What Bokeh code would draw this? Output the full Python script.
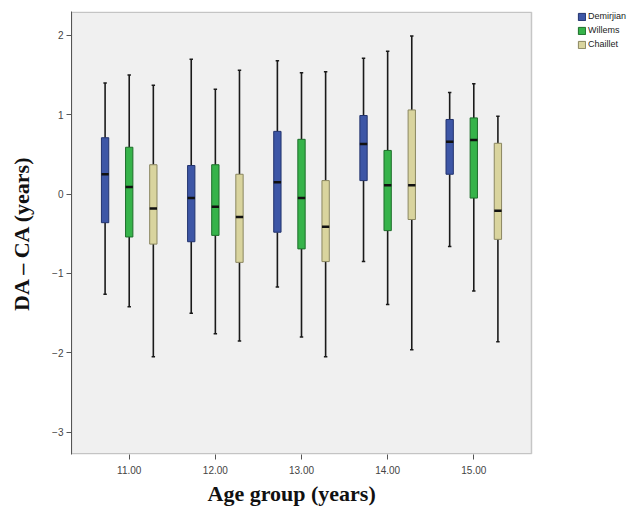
from bokeh.plotting import figure
from bokeh.models import Legend, LegendItem, FixedTicker, Range1d, BoxAnnotation, Title
from bokeh.embed import file_html
from bokeh.resources import INLINE

ages = [11, 12, 13, 14, 15]
methods = ["Demirjian", "Willems", "Chaillet"]
colors = ["#3D56A6", "#36B34A", "#D9D49E"]
edge_colors = ["#22336E", "#1D6E2A", "#8A8660"]

# whisker low, q1, median, q3, whisker high per method per age group
dem_low = [-1.26, -1.50, -1.17, -0.85, -0.66]
dem_q1 = [-0.36, -0.60, -0.48, 0.17, 0.25]
dem_med = [0.25, -0.05, 0.15, 0.63, 0.66]
dem_q3 = [0.71, 0.36, 0.79, 0.99, 0.94]
dem_high = [1.40, 1.70, 1.68, 1.71, 1.28]

wil_low = [-1.42, -1.76, -1.80, -1.39, -1.22]
wil_q1 = [-0.54, -0.52, -0.69, -0.46, -0.05]
wil_med = [0.09, -0.16, -0.05, 0.11, 0.68]
wil_q3 = [0.59, 0.37, 0.69, 0.55, 0.96]
wil_high = [1.50, 1.32, 1.53, 1.80, 1.39]

cha_low = [-2.05, -1.85, -2.05, -1.96, -1.86]
cha_q1 = [-0.63, -0.86, -0.85, -0.32, -0.57]
cha_med = [-0.18, -0.29, -0.41, 0.11, -0.21]
cha_q3 = [0.37, 0.25, 0.17, 1.06, 0.64]
cha_high = [1.37, 1.56, 1.54, 1.99, 0.98]

y_ticks = [2, 1, 0, -1, -2, -3]
x_tick_labels = {11: "11.00", 12: "12.00", 13: "13.00", 14: "14.00", 15: "15.00"}

series = [
    (dem_low, dem_q1, dem_med, dem_q3, dem_high),
    (wil_low, wil_q1, wil_med, wil_q3, wil_high),
    (cha_low, cha_q1, cha_med, cha_q3, cha_high),
]

x_lo, x_hi = 10.33, 15.67      # extent of the grey plotting area
y_lo, y_hi = -3.27, 2.29
x_view_end = 16.854            # frame extends right to hold the legend

p = figure(width=633, height=513, output_backend="svg", toolbar_location=None,
           x_range=Range1d(x_lo, x_view_end), y_range=Range1d(y_lo - 0.01, y_hi + 0.01),
           min_border_left=71, min_border_right=0, min_border_top=11, min_border_bottom=59)
p.background_fill_color = "white"
p.border_fill_color = "white"
p.outline_line_color = None
p.xgrid.visible = False
p.ygrid.visible = False

area = BoxAnnotation(left=x_lo, right=x_hi, bottom=y_lo, top=y_hi,
                     fill_color="#F0F0F0", fill_alpha=1,
                     line_color="#555555", line_width=1.5, level="underlay")
p.add_layout(area)

offsets = [-0.28, 0.0, 0.28]
bw = 0.085
cw = 0.04
renderers = []
for (low, q1, med, q3, high), off, col, ec in zip(series, offsets, colors, edge_colors):
    xs = [a + off for a in ages]
    p.segment(x0=xs, y0=q3, x1=xs, y1=high, line_color="#1a1a1a", line_width=1.6)
    p.segment(x0=xs, y0=low, x1=xs, y1=q1, line_color="#1a1a1a", line_width=1.6)
    p.segment(x0=[x - cw / 2 for x in xs], y0=high, x1=[x + cw / 2 for x in xs], y1=high,
              line_color="#1a1a1a", line_width=1.5)
    p.segment(x0=[x - cw / 2 for x in xs], y0=low, x1=[x + cw / 2 for x in xs], y1=low,
              line_color="#1a1a1a", line_width=1.5)
    r = p.vbar(x=xs, width=bw, bottom=q1, top=q3, fill_color=col, line_color=ec, line_width=1)
    renderers.append(r)
    p.segment(x0=[x - bw / 2 for x in xs], y0=med, x1=[x + bw / 2 for x in xs], y1=med,
              line_color="#111111", line_width=2.5)

legend = Legend(items=[LegendItem(label=m, renderers=[r]) for m, r in zip(methods, renderers)],
                location=(506, 405), orientation="vertical",
                padding=0, margin=0, spacing=4, label_standoff=2,
                glyph_width=9, glyph_height=9, label_height=10,
                label_text_font="Liberation Sans", label_text_font_size="9px",
                label_text_color="#222222", background_fill_alpha=0,
                border_line_color=None)
p.add_layout(legend, "center")

p.yaxis.ticker = FixedTicker(ticks=y_ticks)
p.xaxis.ticker = FixedTicker(ticks=ages)
p.xaxis.major_label_overrides = x_tick_labels
for ax in (p.xaxis[0], p.yaxis[0]):
    ax.minor_tick_line_color = None
    ax.major_tick_out = 5
    ax.major_tick_in = 0
    ax.major_tick_line_color = "#555555"
    ax.axis_line_color = "#555555"
    ax.major_label_text_font = "Liberation Sans"
    ax.major_label_text_font_size = "10px"
    ax.major_label_text_color = "#444444"
    ax.axis_label_text_font = "Liberation Serif"
    ax.axis_label_text_font_style = "bold"
    ax.axis_label_text_font_size = "22px"
    ax.axis_label_text_color = "#111111"
p.xaxis[0].axis_line_color = None
p.yaxis.axis_label = "DA \u2013 CA (years)"
p.yaxis.axis_label_standoff = 15
p.yaxis.major_label_standoff = 3
p.xaxis.major_label_standoff = 6

# x axis title, centred under the grey plotting area
xtitle = Title(text="Age group (years)", align="left", offset=136, standoff=4,
               text_font="Liberation Serif", text_font_style="bold",
               text_font_size="22px", text_color="#111111")
p.add_layout(xtitle, "below")

open("out.html", "w").write(file_html(p, INLINE))
